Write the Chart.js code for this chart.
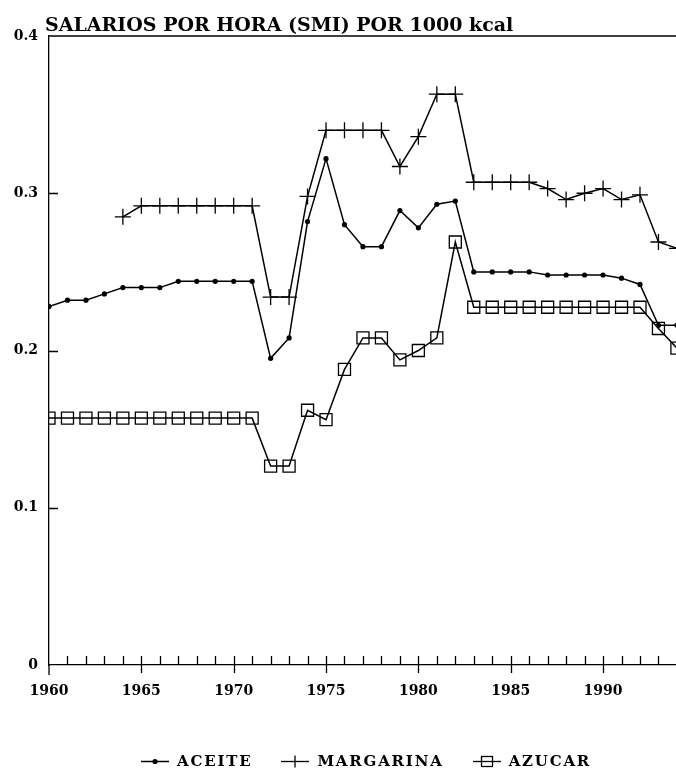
<!DOCTYPE html>
<html>
<head>
<meta charset="utf-8">
<script src="https://cdn.jsdelivr.net/npm/chart.js@4/dist/chart.umd.min.js"></script>
<style>
  html, body { margin: 0; padding: 0; background: #fff; }
  #wrap { position: relative; width: 676px; height: 773px; overflow: hidden; }
  #chart { position: absolute; left: 0; top: 0; }
  #title {
    position: absolute; left: 45px; top: 15px;
    font-family: 'DejaVu Serif', serif; font-weight: bold; font-size: 19px; line-height: 19px;
    color: #000; white-space: nowrap;
  }
  #legend {
    position: absolute; left: 141px; top: 754px; height: 15px;
    display: flex; align-items: center; gap: 29px;
    font-family: 'DejaVu Serif', serif; font-weight: bold; font-size: 15px; line-height: 15px;
    letter-spacing: 1.8px; color: #000;
  }
  .item { display: flex; align-items: center; gap: 8px; }
  .item svg { display: block; }
</style>
</head>
<body>
<div id="wrap">
  <canvas id="chart" width="676" height="773"></canvas>
  <div id="title">SALARIOS POR HORA (SMI) POR 1000 kcal</div>
  <div id="legend"></div>
</div>
<script>
const years = [1960, 1961, 1962, 1963, 1964, 1965, 1966, 1967, 1968, 1969,
               1970, 1971, 1972, 1973, 1974, 1975, 1976, 1977, 1978, 1979,
               1980, 1981, 1982, 1983, 1984, 1985, 1986, 1987, 1988, 1989,
               1990, 1991, 1992, 1993, 1994];

const aceite = [0.228, 0.232, 0.232, 0.236, 0.240, 0.240, 0.240, 0.244, 0.244, 0.244,
                0.244, 0.244, 0.195, 0.208, 0.282, 0.322, 0.280, 0.266, 0.266, 0.289,
                0.278, 0.293, 0.295, 0.250, 0.250, 0.250, 0.250, 0.248, 0.248, 0.248,
                0.248, 0.246, 0.242, 0.216, 0.216];

const margarina = [null, null, null, null, 0.285, 0.292, 0.292, 0.292, 0.292, 0.292,
                   0.292, 0.292, 0.234, 0.234, 0.298, 0.340, 0.340, 0.340, 0.340, 0.317,
                   0.336, 0.363, 0.363, 0.307, 0.307, 0.307, 0.307, 0.303, 0.296, 0.300,
                   0.303, 0.296, 0.299, 0.269, 0.265];

const azucar = [0.157, 0.157, 0.157, 0.157, 0.157, 0.157, 0.157, 0.157, 0.157, 0.157,
                0.157, 0.157, 0.1265, 0.1265, 0.162, 0.156, 0.188, 0.208, 0.208, 0.194,
                0.200, 0.208, 0.269, 0.2275, 0.2275, 0.2275, 0.2275, 0.2275, 0.2275, 0.2275,
                0.2275, 0.2275, 0.2275, 0.214, 0.2015];

const seriesNames = ['ACEITE', 'MARGARINA', 'AZUCAR'];
const yTickValues = [0, 0.1, 0.2, 0.3, 0.4];

const tickFont = { family: 'DejaVu Serif', weight: 'bold', size: 14 };

function toPoints(values) {
    return values.map((v, i) => ({ x: years[i], y: v }));
}

// inward tick marks, top frame line and the axis stub below zero
const axisMarks = {
    id: 'axisMarks',
    afterDraw(chart) {
        const { ctx, chartArea, scales: { x, y } } = chart;
        ctx.save();
        ctx.strokeStyle = '#000';
        ctx.lineWidth = 1.3;
        ctx.beginPath();
        ctx.moveTo(chartArea.left, chartArea.top);
        ctx.lineTo(chart.width, chartArea.top);
        ctx.moveTo(chartArea.left, chartArea.bottom);
        ctx.lineTo(chartArea.left, chartArea.bottom + 10);
        years.forEach(yr => {
            if (yr === 1960) return;
            const px = Math.round(x.getPixelForValue(yr)) + 0.5;
            if (px > chart.width) return;
            ctx.moveTo(px, chartArea.bottom - 9);
            ctx.lineTo(px, chartArea.bottom + (yr % 5 === 0 ? 8 : 0));
        });
        yTickValues.forEach(v => {
            if (v === 0 || v === 0.4) return;
            const py = Math.round(y.getPixelForValue(v)) + 0.5;
            ctx.moveTo(chartArea.left, py);
            ctx.lineTo(chartArea.left + 9, py);
        });
        ctx.stroke();
        ctx.restore();
    }
};

const ctx = document.getElementById('chart').getContext('2d');
new Chart(ctx, {
    type: 'line',
    data: {
        datasets: [
            {
                label: seriesNames[0],
                data: toPoints(aceite),
                borderColor: '#000',
                borderWidth: 1.5,
                pointStyle: 'circle',
                pointRadius: 2.6,
                pointBackgroundColor: '#000',
                pointBorderColor: '#000',
                pointBorderWidth: 0
            },
            {
                label: seriesNames[1],
                data: toPoints(margarina),
                borderColor: '#000',
                borderWidth: 1.5,
                pointStyle: 'cross',
                pointRadius: 8,
                pointBorderColor: '#000',
                pointBorderWidth: 1.3,
                spanGaps: false
            },
            {
                label: seriesNames[2],
                data: toPoints(azucar),
                borderColor: '#000',
                borderWidth: 1.5,
                pointStyle: 'rect',
                pointRadius: 8.5,
                pointBackgroundColor: 'rgba(0,0,0,0)',
                pointBorderColor: '#000',
                pointBorderWidth: 1.3
            }
        ]
    },
    options: {
        responsive: false,
        animation: false,
        layout: { autoPadding: false, padding: { top: 36, right: 0, bottom: 60, left: 0 } },
        plugins: { legend: { display: false }, tooltip: { enabled: false } },
        elements: { line: { tension: 0 } },
        scales: {
            x: {
                type: 'linear',
                min: 1960,
                max: 1993.95,
                border: { display: true, color: '#000', width: 1.3 },
                grid: { display: false, drawTicks: false },
                ticks: {
                    stepSize: 5,
                    includeBounds: false,
                    autoSkip: false,
                    maxRotation: 0,
                    padding: 18,
                    color: '#000',
                    font: tickFont,
                    callback: v => String(v)
                },
                afterFit: s => { s.height = 48; s.paddingLeft = 0; s.paddingRight = 0; }
            },
            y: {
                min: 0,
                max: 0.4,
                border: { display: true, color: '#000', width: 1.3 },
                grid: { display: false, drawTicks: false },
                ticks: {
                    stepSize: 0.1,
                    padding: 11,
                    color: '#000',
                    font: tickFont,
                    callback: v => (v === 0 ? '0' : v.toFixed(1))
                },
                afterFit: s => { s.width = 49; s.paddingTop = 0; s.paddingBottom = 0; }
            }
        }
    },
    plugins: [axisMarks]
});

// legend: line with the series marker in its middle
const icons = [
    '<line x1="0" y1="7.5" x2="28" y2="7.5" stroke="#000" stroke-width="1.5"/><circle cx="14" cy="7.5" r="2.6" fill="#000"/>',
    '<line x1="0" y1="7.5" x2="28" y2="7.5" stroke="#000" stroke-width="1.3"/><line x1="14" y1="1.5" x2="14" y2="13.5" stroke="#000" stroke-width="1.3"/>',
    '<line x1="0" y1="7.5" x2="28" y2="7.5" stroke="#000" stroke-width="1.3"/><rect x="8.5" y="2.5" width="11" height="10" fill="none" stroke="#000" stroke-width="1.3"/>'
];
const legend = document.getElementById('legend');
seriesNames.forEach((name, i) => {
    const item = document.createElement('div');
    item.className = 'item';
    item.innerHTML = `<svg width="28" height="15">${icons[i]}</svg><span>${name}</span>`;
    legend.appendChild(item);
});
</script>
</body>
</html>
